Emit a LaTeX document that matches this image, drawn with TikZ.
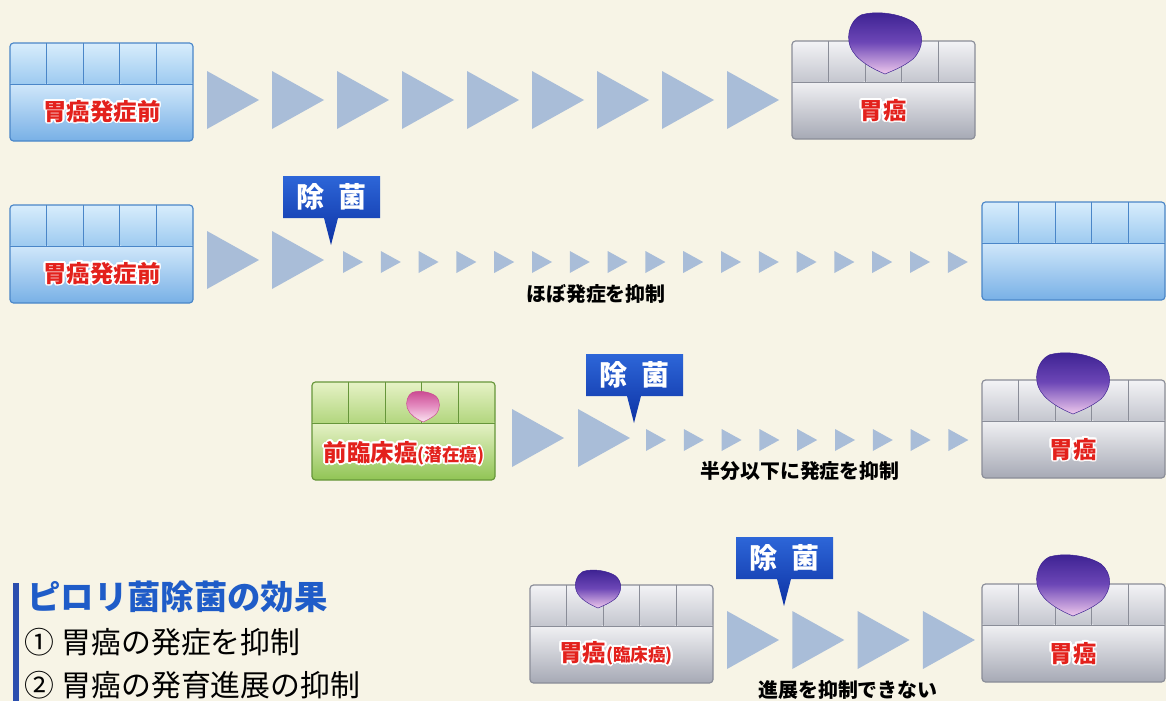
\documentclass[tikz,border=0pt]{standalone}
\usepackage{fontspec}
\setmainfont{Noto Sans CJK JP}
\usepackage[copies]{contour}
\contourlength{1.5pt}

\definecolor{paper}{HTML}{F7F4E6}
\definecolor{arrowblue}{HTML}{A9BDD8}
\definecolor{labelred}{HTML}{E3211C}
\definecolor{calloutTop}{HTML}{2D66D8}
\definecolor{calloutBot}{HTML}{0D32A4}
\definecolor{titleblue}{HTML}{1F5CC8}
\definecolor{barblue}{HTML}{2B4EAE}
% epithelium colours
\definecolor{blueBodyTop}{HTML}{D4EAFB}
\definecolor{blueBodyBot}{HTML}{78B0E6}
\definecolor{blueCellTop}{HTML}{D8EDFC}
\definecolor{blueCellBot}{HTML}{9DCAF0}
\definecolor{blueEdge}{HTML}{4A86C8}
\definecolor{grayBodyTop}{HTML}{F4F4F6}
\definecolor{grayBodyBot}{HTML}{A6A9B5}
\definecolor{grayCellTop}{HTML}{F3F3F6}
\definecolor{grayCellBot}{HTML}{C4C6CE}
\definecolor{grayEdge}{HTML}{8A8D98}
\definecolor{greenBodyTop}{HTML}{EAF4CC}
\definecolor{greenBodyBot}{HTML}{90C454}
\definecolor{greenCellTop}{HTML}{E6F2C6}
\definecolor{greenCellBot}{HTML}{B2D67E}
\definecolor{greenEdge}{HTML}{66963A}
% tumour colours
\definecolor{tumorTop}{HTML}{3A2090}
\definecolor{tumorMid}{HTML}{6C46B6}
\definecolor{tumorBot}{HTML}{EEC8EC}
\definecolor{pinkTop}{HTML}{C9468F}
\definecolor{pinkMid}{HTML}{E48CC0}
\definecolor{pinkBot}{HTML}{FBE6F2}

% mucosa block, top left corner at (0,0), #1 = blue / gray / green
\newcommand{\epithelium}[1]{\shade[top color=#1BodyTop, bottom color=#1BodyBot, rounded corners=3pt] (0,38) rectangle (183,98);
					\foreach \i in {0,...,4}
						\shade[top color=#1CellTop, bottom color=#1CellBot, rounded corners=2pt] (\i*36.6,0) rectangle (\i*36.6+36.6,41);
					\draw[#1Edge, line width=0.8pt] (0,41) -- (183,41);
					\foreach \i in {1,...,4}
						\draw[#1Edge, line width=0.8pt] (\i*36.6,0) -- (\i*36.6,41);
					\draw[#1Edge, line width=1pt, rounded corners=3pt] (0,0) rectangle (183,98);}
% cancer lump, bottom tip at (0,0)
\newcommand{\lump}{(0,0) .. controls (-12,-5) and (-30,-14) .. (-35,-28)
					.. controls (-39,-40) and (-34,-54) .. (-24,-59)
					.. controls (-8,-64) and (16,-60) .. (28,-52)
					.. controls (40,-42) and (39,-26) .. (28,-15)
					.. controls (18,-7) and (7,-3) .. (0,0) -- cycle}
\newcommand{\tumor}{\shade[top color=tumorTop, bottom color=tumorBot, middle color=tumorMid, draw=tumorTop, line width=0.4pt] \lump;}
\newcommand{\pinktumor}{\shade[top color=pinkTop, bottom color=pinkBot, middle color=pinkMid, draw=pinkTop, line width=0.4pt] \lump;}
% progress arrows, left end at (0,0)
\newcommand{\bigstep}{\fill[arrowblue] (0,-29) -- (52,0) -- (0,29) -- cycle;}
\newcommand{\smallstep}{\fill[arrowblue] (0,-11) -- (20,0) -- (0,11) -- cycle;}
% eradication balloon, top left corner at (0,0)
\newcommand{\eradication}[1]{\shade[top color=calloutTop, bottom color=calloutBot]
					(0,0) -- (97,0) -- (97,42) -- (55,42) -- (48,69) -- (41,42) -- (0,42) -- cycle;
					\node[callouttext] (#1) at (48.5,21) {除\hspace{0.5em}菌};}

\begin{document}
\begin{tikzpicture}[x=0.03cm, y=-0.03cm,
	redlabel/.style={text=labelred, font=\bfseries\fontsize{20}{20}\selectfont, inner sep=0pt},
	note/.style={font=\bfseries\fontsize{17}{17}\selectfont, inner sep=0pt},
	callouttext/.style={text=white, font=\bfseries\fontsize{24}{24}\selectfont, inner sep=0pt},
	heading/.style={text=titleblue, font=\bfseries\fontsize{28.5}{28.5}\selectfont, inner sep=0pt, anchor=west},
	item/.style={font=\fontsize{25.5}{25.5}\selectfont, inner sep=0pt, anchor=west}]

					\useasboundingbox (0,0) rectangle (1166,701);
					\fill[paper] (0,0) rectangle (1166,701);

					% arrows
					\foreach \k in {0,...,8}{
						\begin{scope}[shift={(207+\k*65,100)}]
							\bigstep
						\end{scope}
					}

					\foreach \k in {0,1}{
						\begin{scope}[shift={(207+\k*65,260)}]
							\bigstep
						\end{scope}
					}

					\foreach \k in {0,...,16}{
						\begin{scope}[shift={(343+\k*37.8,262)}]
							\smallstep
						\end{scope}
					}

					\foreach \k in {0,1}{
						\begin{scope}[shift={(512+\k*66,438)}]
							\bigstep
						\end{scope}
					}

					\foreach \k in {0,...,8}{
						\begin{scope}[shift={(646+\k*37.8,440)}]
							\smallstep
						\end{scope}
					}

					\foreach \k in {0,...,3}{
						\begin{scope}[shift={(727+\k*65.3,640)}]
							\bigstep
						\end{scope}
					}

					% first row
					\begin{scope}[shift={(10,43)}]
						\epithelium{blue}
					\end{scope}

					\begin{scope}[shift={(792,41)}]
						\epithelium{gray}
					\end{scope}

					\begin{scope}[shift={(885,74)}]
						\tumor
					\end{scope}

					% second row
					\begin{scope}[shift={(10,205)}]
						\epithelium{blue}
					\end{scope}

					\begin{scope}[shift={(982,202)}]
						\epithelium{blue}
					\end{scope}

					% third row
					\begin{scope}[shift={(312,382)}]
						\epithelium{green}
					\end{scope}

					\begin{scope}[shift={(423,422)}, xscale=0.45, yscale=0.5]
						\pinktumor
					\end{scope}

					\begin{scope}[shift={(982,380)}]
						\epithelium{gray}
					\end{scope}

					\begin{scope}[shift={(1073,414)}]
						\tumor
					\end{scope}

					% fourth row
					\begin{scope}[shift={(530,585)}]
						\epithelium{gray}
					\end{scope}

					\begin{scope}[shift={(598,608)}, scale=0.62]
						\tumor
					\end{scope}

					\begin{scope}[shift={(982,584)}]
						\epithelium{gray}
					\end{scope}

					\begin{scope}[shift={(1073,616)}]
						\tumor
					\end{scope}

					% balloons
					\begin{scope}[shift={(283,176)}]
						\eradication{erad1}
					\end{scope}

					\begin{scope}[shift={(586,354)}]
						\eradication{erad2}
					\end{scope}

					\begin{scope}[shift={(736,537)}]
						\eradication{erad3}
					\end{scope}

					% labels
					\node[redlabel] (before1) at (102,112) {\contour{white}{胃癌発症前}};
					\node[redlabel] (cancer1) at (883,111) {\contour{white}{胃癌}};
					\node[redlabel] (before2) at (102,274) {\contour{white}{胃癌発症前}};
					\node[redlabel] (latent) at (404,454) {\contour{white}{前臨床癌}\contour{white}{\fontsize{15}{15}\selectfont(潜在癌)}};
					\node[redlabel] (cancer3) at (1073,450) {\contour{white}{胃癌}};
					\node[redlabel] (clinical) at (616,654) {\contour{white}{胃癌}\contour{white}{\fontsize{15}{15}\selectfont(臨床癌)}};
					\node[redlabel] (cancer4) at (1073,654) {\contour{white}{胃癌}};

					\node[note] (nearly) at (596,294) {ほぼ発症を抑制};
					\node[note] (half) at (800,471) {半分以下に発症を抑制};
					\node[note] (noeffect) at (848,690) {進展を抑制できない};

					% summary
					\fill[barblue] (13,583) rectangle (19,701);
					\node[heading] (effects) at (27,597) {ピロリ菌除菌の効果};
					\node[item] (effect1) at (24,642) {①\hspace{0.25em}胃癌の発症を抑制};
					\node[item] (effect2) at (24,685) {②\hspace{0.25em}胃癌の発育進展の抑制};

				\end{tikzpicture}
\end{document}
